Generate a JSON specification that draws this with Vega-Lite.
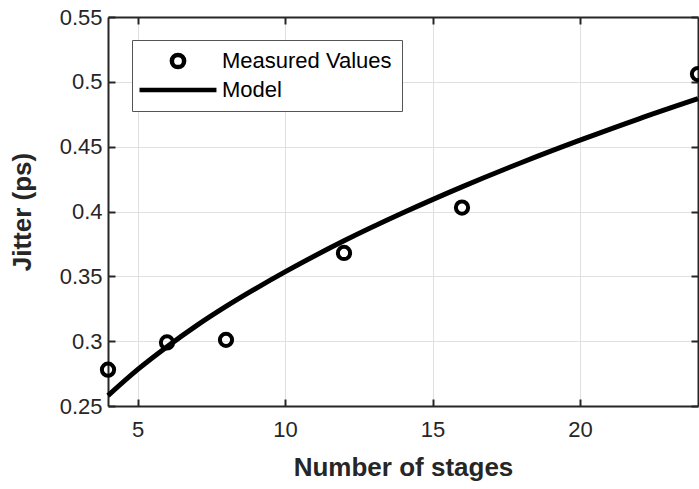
{
  "$schema": "https://vega.github.io/schema/vega-lite/v6.json",
  "width": 590,
  "height": 389,
  "autosize": {"type": "none"},
  "padding": {"left": 108, "top": 17, "right": 1, "bottom": 83},
  "background": "white",
  "config": {
    "font": "Liberation Sans",
    "view": {"stroke": null},
    "axis": {
      "domainColor": "#262626",
      "domainWidth": 2,
      "tickColor": "#262626",
      "tickWidth": 2,
      "tickSize": -7,
      "gridColor": "#e0e0e0",
      "gridWidth": 1,
      "labelFont": "Liberation Sans",
      "labelFontSize": 22,
      "labelColor": "#262626",
      "titleFont": "Liberation Sans",
      "titleFontSize": 26,
      "titleFontWeight": "bold",
      "titleColor": "#262626"
    }
  },
  "datasets": {
    "measured": [
      {"stages": 4, "jitter": 0.278, "series": "Measured Values"},
      {"stages": 6, "jitter": 0.299, "series": "Measured Values"},
      {"stages": 8, "jitter": 0.301, "series": "Measured Values"},
      {"stages": 12, "jitter": 0.368, "series": "Measured Values"},
      {"stages": 16, "jitter": 0.403, "series": "Measured Values"},
      {"stages": 24, "jitter": 0.506, "series": "Measured Values"}
    ],
    "model": [
      {"stages": 4, "jitter": 0.258},
      {"stages": 5, "jitter": 0.278},
      {"stages": 6, "jitter": 0.2957},
      {"stages": 7, "jitter": 0.312},
      {"stages": 8, "jitter": 0.3268},
      {"stages": 10, "jitter": 0.3534},
      {"stages": 12, "jitter": 0.3774},
      {"stages": 14, "jitter": 0.399},
      {"stages": 16, "jitter": 0.419},
      {"stages": 18, "jitter": 0.4376},
      {"stages": 20, "jitter": 0.455},
      {"stages": 22, "jitter": 0.4715},
      {"stages": 24, "jitter": 0.487}
    ]
  },
  "layer": [
    {
      "data": {"name": "model"},
      "mark": {"type": "line", "color": "black", "strokeWidth": 5, "interpolate": "monotone"},
      "encoding": {
        "x": {
          "field": "stages", "type": "quantitative",
          "scale": {"domain": [4, 24], "nice": false, "zero": false},
          "axis": {"orient": "bottom", "values": [5, 10, 15, 20], "title": "Number of stages", "labelPadding": 20, "titlePadding": 14, "grid": true}
        },
        "y": {
          "field": "jitter", "type": "quantitative",
          "scale": {"domain": [0.25, 0.55], "nice": false, "zero": false},
          "axis": {"orient": "left", "values": [0.25, 0.3, 0.35, 0.4, 0.45, 0.5, 0.55], "format": "~g", "title": "Jitter (ps)", "labelPadding": 13, "titlePadding": 24, "grid": true}
        }
      }
    },
    {
      "data": {"name": "measured"},
      "mark": {"type": "point", "filled": false, "color": "black", "strokeWidth": 4, "opacity": 1},
      "encoding": {
        "x": {
          "field": "stages", "type": "quantitative",
          "axis": {"orient": "top", "values": [5, 10, 15, 20], "labels": false, "title": null, "grid": false}
        },
        "y": {
          "field": "jitter", "type": "quantitative",
          "axis": {"orient": "right", "values": [0.25, 0.3, 0.35, 0.4, 0.45, 0.5, 0.55], "labels": false, "title": null, "grid": false}
        },
        "shape": {
          "field": "series", "type": "nominal",
          "scale": {"domain": ["Measured Values", "Model"], "range": ["circle", "M-4,0L4,0"]},
          "legend": {
            "title": null, "orient": "none", "legendX": 24, "legendY": 23,
            "labelFont": "Liberation Sans", "labelFontSize": 22, "labelColor": "#000000", "labelLimit": 400,
            "strokeColor": "#555555", "fillColor": "white", "padding": 10,
            "symbolStrokeWidth": 4.5, "symbolStrokeColor": "black", "symbolFillColor": "white",
            "symbolOffset": 24, "labelOffset": 32, "rowPadding": 1
          }
        },
        "size": {
          "field": "series", "type": "nominal",
          "scale": {"domain": ["Measured Values", "Model"], "range": [150, 370]},
          "legend": {
            "title": null, "orient": "none", "legendX": 24, "legendY": 23,
            "labelFont": "Liberation Sans", "labelFontSize": 22, "labelColor": "#000000", "labelLimit": 400,
            "strokeColor": "#555555", "fillColor": "white", "padding": 10,
            "symbolStrokeWidth": 4.5, "symbolStrokeColor": "black", "symbolFillColor": "white",
            "symbolOffset": 24, "labelOffset": 32, "rowPadding": 1
          }
        }
      }
    }
  ],
  "resolve": {"axis": {"x": "independent", "y": "independent"}}
}
